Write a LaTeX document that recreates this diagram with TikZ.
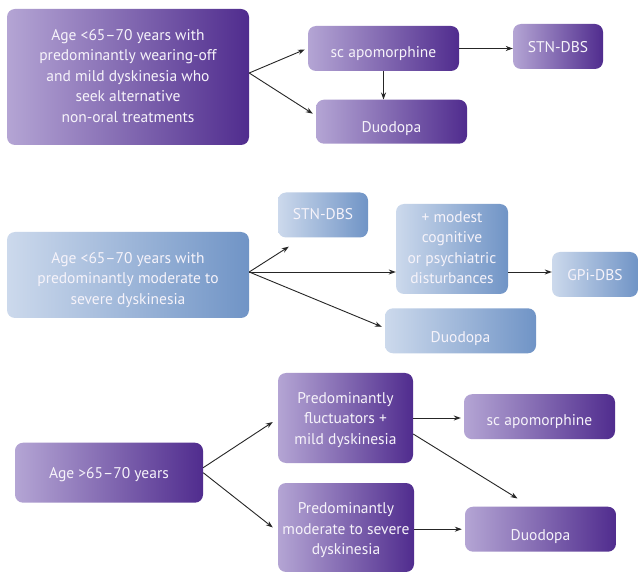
\documentclass[tikz,border=0pt]{standalone}
\usepackage{fontspec}
\setmainfont{PT Sans}
\usetikzlibrary{arrows.meta}
\definecolor{pl}{RGB}{180,165,212}
\definecolor{pd}{RGB}{80,44,142}
\definecolor{bl}{RGB}{204,217,236}
\definecolor{bd}{RGB}{112,148,198}
\definecolor{tx}{RGB}{246,243,250}
\newcommand{\mlines}[2]{\raisebox{0pt}[\dimexpr\height+#1*2\relax][\depth]{\begin{tabular}{@{}c@{}}#2\end{tabular}}}
\begin{document}
\begin{tikzpicture}[x=1pt,y=-1pt,
 box/.style={rounded corners=8pt, text=tx, align=center, font=\fontsize{15.5}{20.5}\selectfont, inner sep=0pt, draw=none},
 pbox/.style={box, left color=pl, right color=pd},
 bbox/.style={box, left color=bl, right color=bd},
 tb/.style={text height=#1, text depth=0pt},
 arr/.style={-{Stealth[length=7pt,width=5pt]}, line width=0.9pt, black!85}]
\useasboundingbox (0,0) rectangle (638,572);
\fill[white] (0,0) rectangle (638,572);
% Section 1
\node[pbox, minimum width=242pt, minimum height=136pt] (a1) at (128,77) {\mlines{0pt}{Age <65--70 years with\\predominantly wearing-off\\and mild dyskinesia who\\seek alternative\\non-oral treatments}};
\node[pbox, tb=18pt, minimum width=151pt, minimum height=45pt] (s1) at (383.5,48.5) {sc apomorphine};
\node[pbox, tb=12pt, minimum width=90pt, minimum height=45pt] (t1) at (558,46.5) {STN-DBS};
\node[pbox, tb=22pt, minimum width=151pt, minimum height=44pt] (d1) at (391.5,121.7) {Duodopa};
\draw[arr] ([yshift=4pt]a1.east) -- ([xshift=-3pt,yshift=-1pt]s1.west);
\draw[arr] ([yshift=4pt]a1.east) -- ([xshift=-3pt,yshift=8pt]d1.west);
\draw[arr] (s1.east) -- (s1.east -| t1.west);
\draw[arr] (s1.south) -- (s1.south |- d1.north);
% Section 2
\node[bbox, minimum width=242pt, minimum height=86pt] (a2) at (128,275) {\mlines{4.5pt}{Age <65--70 years with\\predominantly moderate to\\severe dyskinesia}};
\node[bbox, tb=10pt, minimum width=90pt, minimum height=45pt] (t2) at (323,215) {STN-DBS};
\node[bbox, minimum width=112pt, minimum height=90pt] (m2) at (452,249) {\mlines{0pt}{+ modest\\cognitive\\or psychiatric\\disturbances}};
\node[bbox, tb=12pt, minimum width=86pt, minimum height=45pt] (g2) at (595,274.5) {GPi-DBS};
\node[bbox, tb=23pt, minimum width=151pt, minimum height=45pt] (d2) at (460.5,330.8) {Duodopa};
\coordinate (o2) at ([yshift=3pt]a2.east);
\draw[arr] (o2) -- ([xshift=11pt,yshift=-9pt]t2.south west);
\draw[arr] (o2) -- (o2 -| m2.west);
\draw[arr] (o2) -- ([xshift=-3pt,yshift=4pt]d2.west);
\draw[arr] ([yshift=2.5pt]g2.west -| m2.east) -- ([yshift=2.5pt]g2.west);
% Section 3
\node[pbox, tb=11pt, minimum width=188pt, minimum height=60pt] (a3) at (109,472.7) {Age >65--70 years};
\node[pbox, minimum width=135pt, minimum height=90pt] (f3) at (345.5,418) {\mlines{1.5pt}{Predominantly\\fluctuators +\\mild dyskinesia}};
\node[pbox, minimum width=136pt, minimum height=89pt] (m3) at (346,527.5) {\mlines{2.5pt}{Predominantly\\moderate to severe\\dyskinesia}};
\node[pbox, tb=17pt, minimum width=151pt, minimum height=45pt] (s3) at (539.5,416.7) {sc apomorphine};
\node[pbox, tb=22pt, minimum width=151pt, minimum height=45pt] (d3) at (540.5,529.2) {Duodopa};
\draw[arr] ([yshift=5pt]a3.east) -- ([xshift=-5pt,yshift=-4pt]f3.west);
\draw[arr] ([yshift=0pt]a3.east) -- ([xshift=-5pt]m3.west);
\draw[arr, shorten >=3pt] (f3.east) -- (f3.east -| s3.west);
\draw[arr] ([yshift=-16pt]f3.east) -- ([xshift=-23pt,yshift=8pt]d3.north);
\draw[arr, shorten >=3pt] (d3.west -| m3.east) -- (d3.west);
\end{tikzpicture}
\end{document}
